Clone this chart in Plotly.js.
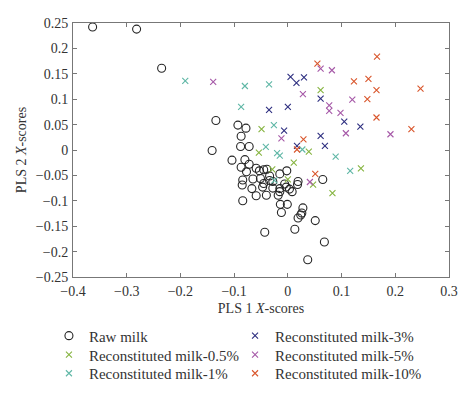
<!DOCTYPE html>
<html>
<head>
<meta charset="utf-8">
<script src="https://cdn.plot.ly/plotly-3.0.1.min.js"></script>
<style>html,body{margin:0;padding:0;background:#fff}#chart{width:474px;height:396px}</style>
</head>
<body>
<div id="chart"></div>
<script>
// Raw milk
const rawX = [-0.3635,-0.2816,-0.235,-0.134,-0.141,-0.093,-0.078,-0.087,-0.088,-0.072,-0.104,-0.080,-0.072,-0.087,-0.059,-0.053,-0.045,-0.039,-0.015,-0.002,-0.084,-0.065,-0.051,-0.034,-0.045,-0.028,-0.085,-0.047,-0.067,-0.028,-0.015,-0.003,0.003,-0.006,0.019,0.018,0.008,-0.015,-0.059,-0.040,-0.018,-0.084,-0.014,-0.001,-0.012,0.065,0.028,0.026,0.024,0.019,0.051,0.013,-0.043,0.068,0.037,-0.077,-0.034];
const rawY = [0.242,0.238,0.161,0.058,-0.001,0.049,0.043,0.027,0.007,0.007,-0.020,-0.019,-0.028,-0.034,-0.036,-0.041,-0.039,-0.038,-0.047,-0.041,-0.059,-0.057,-0.056,-0.060,-0.066,-0.062,-0.069,-0.073,-0.076,-0.075,-0.076,-0.073,-0.077,-0.067,-0.062,-0.068,-0.082,-0.082,-0.090,-0.089,-0.089,-0.100,-0.107,-0.107,-0.123,-0.058,-0.114,-0.124,-0.128,-0.134,-0.139,-0.156,-0.162,-0.181,-0.216,-0.043,-0.051];
// Reconstituted milk-0.5%
const r05X = [-0.049,-0.054,0.011,-0.029,0.000,0.039,0.047,0.061,0.136,0.083];
const r05Y = [0.041,-0.005,-0.025,-0.038,-0.058,-0.003,-0.068,0.118,-0.036,-0.085];
// Reconstituted milk-1%
const r1X = [-0.191,-0.080,-0.035,-0.087,-0.026,-0.041,-0.020,-0.015,0.027,0.089,0.116,-0.025];
const r1Y = [0.136,0.126,0.129,0.085,0.049,0.006,-0.006,-0.011,0.001,-0.013,-0.041,-0.060];
// Reconstituted milk-3%
const r3X = [0.005,0.016,0.030,-0.035,0.000,-0.007,0.017,0.061,0.105,0.135,0.061,0.069];
const r3Y = [0.144,0.132,0.143,0.079,0.085,0.038,0.008,0.101,0.056,0.046,0.028,0.008];
// Reconstituted milk-5%
const r5X = [-0.139,0.028,0.061,0.082,0.120,0.077,0.077,0.098,0.108,0.191,-0.012,0.041];
const r5Y = [0.134,0.110,0.160,0.157,0.099,0.088,0.077,0.073,0.033,0.031,0.023,-0.063];
// Reconstituted milk-10%
const r10X = [0.055,0.166,0.123,0.150,0.165,0.247,0.148,0.165,0.230,0.029,0.017,0.051];
const r10Y = [0.170,0.184,0.135,0.140,0.118,0.121,0.100,0.064,0.041,0.021,0.001,-0.047];

const names = ["Raw milk","Reconstituted milk-0.5%","Reconstituted milk-1%","Reconstituted milk-3%","Reconstituted milk-5%","Reconstituted milk-10%"];
const colors = ["#262626","#86b440","#5fb7a6","#2e2f80","#a659a8","#d9562c"];
const xs = [rawX,r05X,r1X,r3X,r5X,r10X];
const ys = [rawY,r05Y,r1Y,r3Y,r5Y,r10Y];
const legendIds = ["legend","legend2","legend3","legend4","legend5","legend6"];

const traces = names.map((n,i)=>({
  type:"scatter", mode:"markers", name:n, x:xs[i], y:ys[i],
  legend: legendIds[i],
  marker: i===0
    ? {symbol:"circle-open", size:8, color:colors[i], line:{width:1.1, color:colors[i]}}
    : {symbol:"x-thin-open", size:6, color:colors[i], line:{width:1.1, color:colors[i]}}
}));

const serif = "Liberation Serif, Times New Roman, serif";
const fnt = {family:serif, size:14, color:"#333"};
const axisCommon = {
  showgrid:false, zeroline:false, showline:true, linecolor:"#777", linewidth:1,
  mirror:"ticks", ticks:"inside", ticklen:4, tickcolor:"#777", tickwidth:1,
  tickfont:fnt, ticklabelstandoff:1, automargin:false
};
const layout = {
  width:474, height:396,
  margin:{l:73, r:25, t:23, b:119, autoexpand:false},
  paper_bgcolor:"#fff", plot_bgcolor:"#fff",
  font:fnt,
  showlegend:true,
  xaxis: Object.assign({}, axisCommon, {range:[-0.4,0.3], dtick:0.1, tick0:0,
    title:{text:"PLS 1 <i>X</i>-scores", font:fnt, standoff:5}}),
  yaxis: Object.assign({}, axisCommon, {range:[-0.25,0.25], dtick:0.05, tick0:0,
    title:{text:"PLS 2 <i>X</i>-scores", font:fnt, standoff:5}})
};
const legX = [-0.064,-0.064,-0.064,0.431,0.431,0.431];
const legY = [-0.167,-0.242,-0.315,-0.167,-0.242,-0.315];
legendIds.forEach((id,i)=>{
  layout[id] = {x:legX[i], xanchor:"left", y:legY[i], yanchor:"top", orientation:"v",
    bgcolor:"rgba(0,0,0,0)", font:{family:serif, size:15, color:"#333"}};
});
Plotly.newPlot("chart", traces, layout, {displayModeBar:false, staticPlot:true});
</script>
</body>
</html>
